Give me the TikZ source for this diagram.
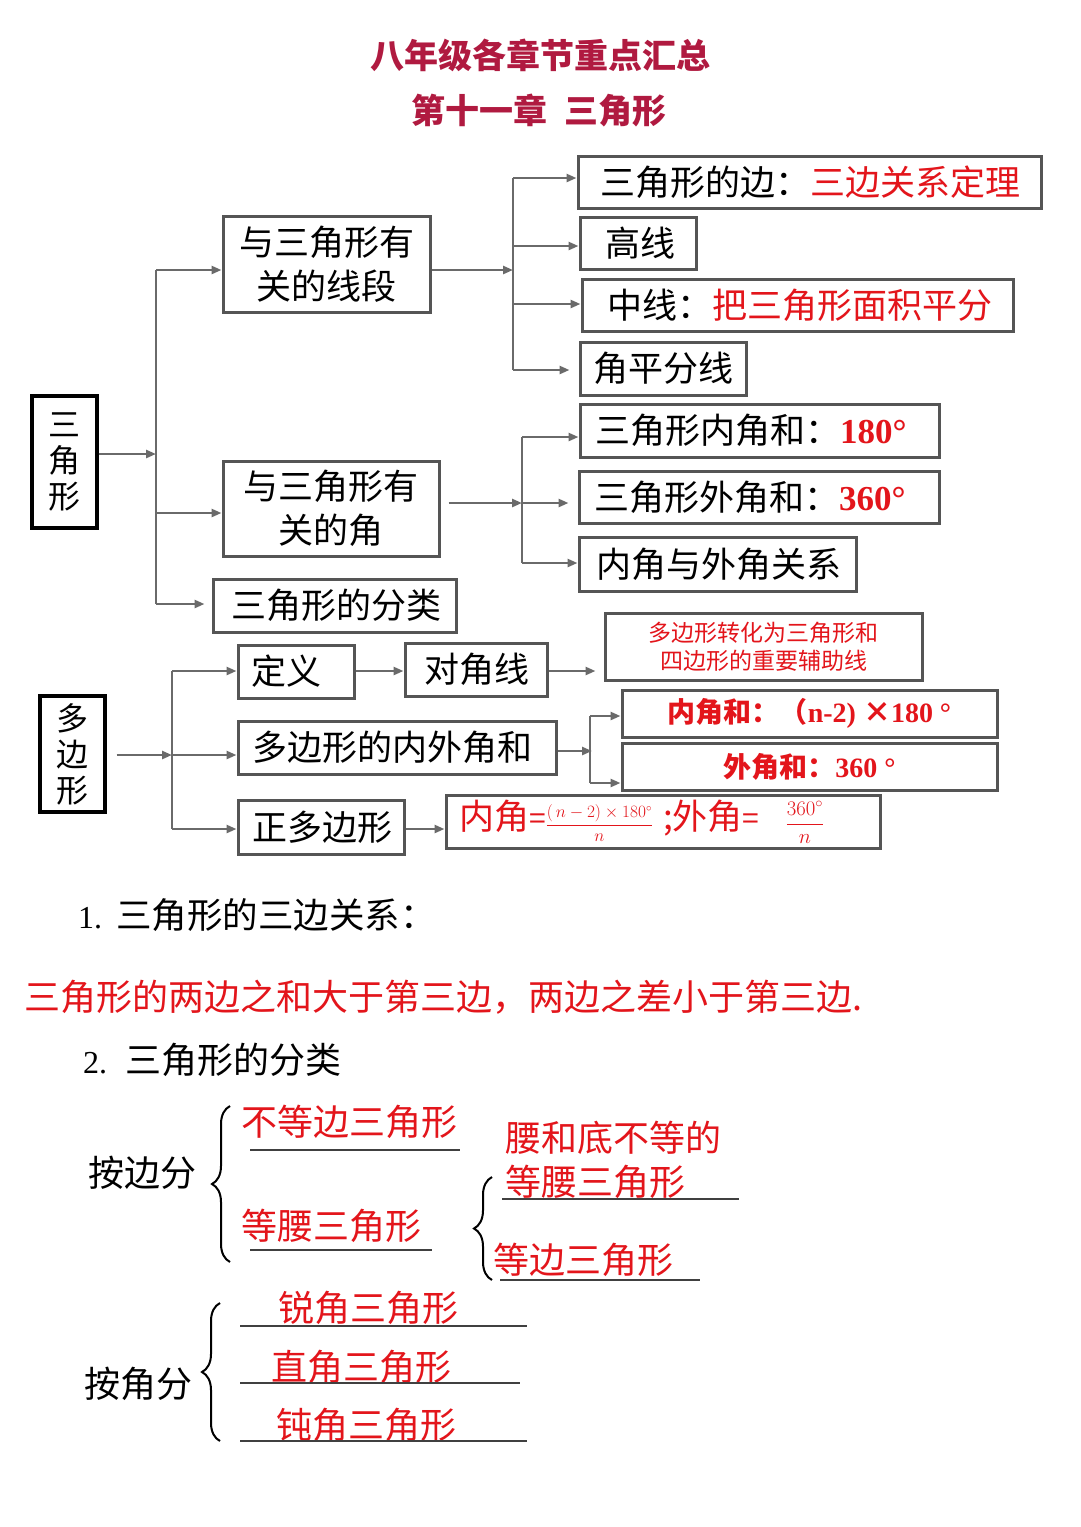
\documentclass[tikz,border=0pt]{standalone}
\usepackage{fontspec}
\setmainfont{Liberation Serif}
\newfontfamily\cjk{Noto Sans CJK SC}
\usetikzlibrary{arrows.meta,decorations.pathreplacing}
\definecolor{titlered}{HTML}{B01A40}
\definecolor{hred}{HTML}{E3151B}
\definecolor{boxgray}{HTML}{555555}
\definecolor{arrgray}{HTML}{6A6A6A}
\newcommand{\fsz}[2]{\fontsize{#1pt}{#2pt}\selectfont}
\begin{document}
\begin{tikzpicture}[x=1pt,y=-1pt,
  box/.style={draw=boxgray, line width=3pt, inner ysep=0pt, font=\cjk\fsz{35}{44}},
  lbox/.style={box, align=left},
  mainbox/.style={draw=black, line width=3.2pt, inner sep=0pt, align=center, font=\cjk\fsz{32}{36}},
  line/.style={draw=arrgray, line width=2.5pt},
  arr/.style={draw=arrgray, line width=2.5pt, -{Triangle[length=10pt,width=8pt]}},
  uline/.style={draw=black!75, line width=1.6pt},
  brc/.style={draw=black, line width=2pt, decorate, decoration={brace, amplitude=18pt}},
  txt/.style={anchor=west, inner sep=0pt, font=\cjk\fsz{36}{40}},
  rtxt/.style={txt, text=hred}
]
\useasboundingbox (0,0) rectangle (1080,1527);
\fill[white] (0,0) rectangle (1080,1527);

% titles
\node[font=\cjk\bfseries\fsz{34}{40}, text=titlered] (title) at (540,55) {八年级各章节重点汇总};
\node[font=\cjk\bfseries\fsz{34}{40}, text=titlered] (sub) at (539,111) {第十一章\hspace{18pt}三角形};

% triangle section
\node[mainbox, minimum width=65pt, minimum height=132pt] (tri) at (64.5,462) {三\\角\\形};
\node[box, minimum width=207pt, minimum height=96pt, align=center] (seg) at (326.5,264) {与三角形有\\关的线段};
\node[box, minimum width=216pt, minimum height=95pt, align=center] (ang) at (331,508.5) {与三角形有\\关的角};
\node[lbox, text width=207pt, inner xsep=18pt, minimum height=53pt] (cls) at (334.5,605.5) {三角形的分类};

\node[lbox, text width=419pt, inner xsep=22pt, minimum height=52pt] (e1) at (809.5,182) {三角形的边：\textcolor{hred}{三边关系定理}};
\node[lbox, text width=66pt, inner xsep=25pt, minimum height=52pt] (e2) at (638,243) {高线};
\node[lbox, text width=381pt, inner xsep=25pt, minimum height=52pt] (e3) at (797.5,305) {中线：\textcolor{hred}{把三角形面积平分}};
\node[lbox, text width=140pt, inner xsep=13pt, minimum height=53pt] (e4) at (663,368.5) {角平分线};

\node[lbox, text width=329pt, inner xsep=15pt, minimum height=53pt] (a1) at (759.5,430.5) {三角形内角和：\textcolor{hred}{\rmfamily\bfseries 180°}};
\node[lbox, text width=330pt, inner xsep=15pt, minimum height=52pt] (a2) at (759,497) {三角形外角和：\textcolor{hred}{\rmfamily\bfseries 360°}};
\node[lbox, text width=243pt, inner xsep=17pt, minimum height=54pt] (a3) at (717.5,564) {内角与外角关系};

% polygon section
\node[mainbox, minimum width=65pt, minimum height=116pt] (poly) at (72.5,754) {多\\边\\形};
\node[lbox, text width=90pt, inner xsep=13pt, minimum height=53pt] (def) at (296,671.5) {定义};
\node[lbox, text width=104pt, inner xsep=19pt, minimum height=53pt] (diag) at (476,669.5) {对角线};
\node[box, minimum width=317pt, minimum height=67pt, align=center, font=\cjk\fsz{23}{28}, text=hred] (aux) at (763.5,646.5) {多边形转化为三角形和\\四边形的重要辅助线};
\node[lbox, text width=290pt, inner xsep=14pt, minimum height=53pt] (sum) at (397,747.5) {多边形的内外角和};
\node[box, minimum width=375pt, minimum height=47pt, align=center, text=hred, font=\fsz{28}{32}] (is) at (809.5,713.5) {{\cjk\bfseries 内角和：（}{\bfseries n-2) }{\cjk\bfseries ×}{\bfseries 180 °}};
\node[box, minimum width=375pt, minimum height=47pt, align=center, text=hred, font=\fsz{28}{32}] (es) at (809.5,766.5) {{\cjk\bfseries 外角和：}{\bfseries 360 °}};
\node[lbox, text width=138pt, inner xsep=14pt, minimum height=54pt] (reg) at (321,827) {正多边形};
\node[lbox, text width=408pt, inner xsep=13pt, minimum height=53pt, text=hred] (fm) at (663,821.5) {内角{\fsz{30}{34}=}{\fsz{16}{18}$\displaystyle\frac{(\,n-2)\times180^\circ}{n}$}\hspace{10pt};外角{\fsz{30}{34}=}\hspace{26pt}{\fsz{20}{23}$\displaystyle\frac{360^\circ}{n}$}};

% connectors: triangle
\coordinate (j1) at (156,454);
\coordinate (j1t) at (156,270);
\coordinate (j1m) at (156,513);
\coordinate (j1b) at (156,604);
\draw[line] (j1t) -- (j1b);
\draw[arr] (tri.east |- j1) -- (j1);
\draw[arr] (j1t) -- (j1t -| seg.west);
\draw[arr] (j1m) -- (j1m -| ang.west);
\draw[arr, shorten >=7pt] (j1b) -- (j1b -| cls.west);

\coordinate (j2) at (513,270);
\coordinate (j2a) at (513,178);
\coordinate (j2b) at (513,246);
\coordinate (j2c) at (513,304);
\coordinate (j2d) at (513,370);
\draw[line] (j2a) -- (j2d);
\draw[arr] (seg.east |- j2) -- (j2);
\draw[arr] (j2a) -- (j2a -| e1.west);
\draw[arr] (j2b) -- (j2b -| e2.west);
\draw[arr] (j2c) -- (j2c -| e3.west);
\draw[arr, shorten >=9pt] (j2d) -- (j2d -| e4.west);

\coordinate (j3) at (522,503);
\coordinate (j3a) at (522,437);
\coordinate (j3c) at (522,563);
\draw[line] (j3a) -- (j3c);
\draw[arr, shorten <=8pt] (ang.east |- j3) -- (j3);
\draw[arr] (j3a) -- (j3a -| a1.west);
\draw[arr, shorten >=9pt] (j3) -- (j3 -| a2.west);
\draw[arr] (j3c) -- (j3c -| a3.west);

% connectors: polygon
\coordinate (j4) at (172,755);
\coordinate (j4a) at (172,671);
\coordinate (j4c) at (172,829);
\draw[line] (j4a) -- (j4c);
\draw[arr, shorten <=10pt] (poly.east |- j4) -- (j4);
\draw[arr] (j4a) -- (j4a -| def.west);
\draw[arr] (j4) -- (j4 -| sum.west);
\draw[arr] (j4c) -- (j4c -| reg.west);
\draw[arr] (def.east |- j4a) -- (diag.west |- j4a);
\draw[arr, shorten >=8pt] (diag.east |- j4a) -- (aux.west |- j4a);

\coordinate (j5) at (592,751);
\coordinate (j5a) at (590,716);
\coordinate (j5b) at (590,783);
\draw[line] (j5a) -- (j5b);
\draw[arr] (sum.east |- j5) -- (j5);
\draw[arr] (j5a) -- (j5a -| is.west);
\draw[arr] (j5b) -- (j5b -| es.west);
\draw[arr] (reg.east |- j4c) -- (fm.west |- j4c);

% text part
\node[anchor=west, inner sep=0pt, font=\fsz{32}{36}] (t1) at (78,915) {1.\hspace{14pt}{\cjk\fsz{35.5}{40}三角形的三边关系：}};
\node[anchor=west, inner sep=0pt, font=\cjk\fsz{36}{40}, text=hred] (t2) at (24,997) {三角形的两边之和大于第三边，两边之差小于第三边.};
\node[anchor=west, inner sep=0pt, font=\fsz{32}{36}] (t3) at (83,1060) {2.\hspace{18pt}{\cjk\fsz{36}{40}三角形的分类}};

\node[txt] (bb) at (88,1173) {按边分};
\draw[brc] (230,1262) -- (230,1106);
\node[rtxt] (s1) at (241,1122) {不等边三角形};
\draw[uline] (250,1150) -- (460,1150);
\node[rtxt] (s2) at (241,1226) {等腰三角形};
\draw[uline] (250,1250) -- (432,1250);
\draw[brc] (492,1280) -- (492,1177);
\node[rtxt] (s3) at (505,1138) {腰和底不等的};
\node[rtxt] (s4) at (505,1182) {等腰三角形};
\draw[uline] (502,1199) -- (739,1199);
\node[rtxt] (s5) at (493,1260) {等边三角形};
\draw[uline] (500,1280) -- (700,1280);

\node[txt] (bj) at (84,1384) {按角分};
\draw[brc] (220,1441) -- (220,1303);
\node[rtxt] (k1) at (278,1308) {锐角三角形};
\draw[uline] (240,1326) -- (527,1326);
\node[rtxt] (k2) at (271,1367) {直角三角形};
\draw[uline] (240,1383) -- (520,1383);
\node[rtxt] (k3) at (276,1425) {钝角三角形};
\draw[uline] (240,1441) -- (527,1441);
\end{tikzpicture}
\end{document}
